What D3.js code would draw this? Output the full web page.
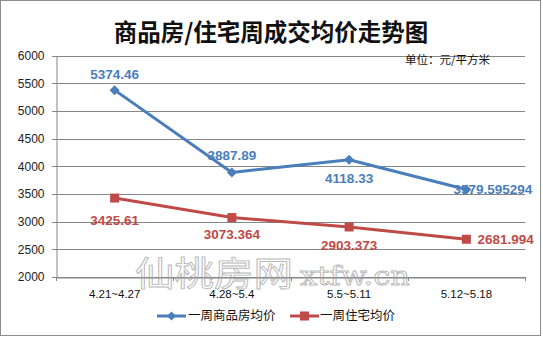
<!DOCTYPE html>
<html><head><meta charset="utf-8">
<script src="https://cdn.jsdelivr.net/npm/d3@7"></script>
<style>body{margin:0;background:#fff}svg{display:block}</style>
</head><body>
<script>
const categories = ["4.21~4.27", "4.28~5.4", "5.5~5.11", "5.12~5.18"];
const seriesNames = ["一周商品房均价", "一周住宅均价"];
const commercial = [5374.46, 3887.89, 4118.33, 3579.595294];
const residential = [3425.61, 3073.364, 2903.373, 2681.994];
const commercialLabels = ["5374.46", "3887.89", "4118.33", "3579.595294"];
const residentialLabels = ["3425.61", "3073.364", "2903.373", "2681.994"];
const yTicks = [2000, 2500, 3000, 3500, 4000, 4500, 5000, 5500, 6000];

const W = 543, H = 338;
const svg = d3.select("body").append("svg").attr("width", W).attr("height", H);
svg.append("rect").attr("x", 0.5).attr("y", 0.5).attr("width", W - 3).attr("height", H - 3)
  .attr("fill", "#fff").attr("stroke", "#8c8c8c").attr("stroke-width", 1);

const pLeft = 56, pRight = 525, pTop = 55.5, pBottom = 277;
const x = d3.scaleBand().domain(categories).range([pLeft, pRight]);
const y = d3.scaleLinear().domain([2000, 6000]).range([pBottom, pTop]);
const font = "'Liberation Sans', Arial, sans-serif";
const cjk = "'Noto Sans CJK SC', sans-serif";

// title
svg.append("text").attr("x", 271).attr("y", 41).attr("text-anchor", "middle")
  .attr("font-family", cjk).attr("font-weight", "bold").attr("font-size", 23.5)
  .attr("fill", "#111").text("商品房/住宅周成交均价走势图");

// gridlines
svg.append("g").selectAll("line").data(yTicks).join("line")
  .attr("x1", pLeft - 4).attr("x2", pRight)
  .attr("y1", d => Math.round(y(d)) + 0.5).attr("y2", d => Math.round(y(d)) + 0.5)
  .attr("stroke", "#868686").attr("stroke-width", 1);

// watermark (drawn under texts)
const wm = svg.append("g").attr("fill", "none").attr("stroke", "#b9b9b9").attr("stroke-width", 0.9);
wm.append("text").attr("x", 135).attr("y", 286).attr("font-family", cjk).attr("font-size", 34)
  .attr("textLength", 158).attr("lengthAdjust", "spacingAndGlyphs").text("仙桃房网");
wm.append("text").attr("x", 300).attr("y", 285).attr("font-family", "'DejaVu Serif', serif").attr("font-size", 26)
  .attr("textLength", 110).attr("lengthAdjust", "spacingAndGlyphs").text("xtfw.cn");

// y axis
const yAxis = d3.axisLeft(y).tickValues(yTicks).tickFormat(d3.format("d")).tickSize(0).tickPadding(12);
const gy = svg.append("g").attr("transform", `translate(${pLeft + 0.5},0)`).call(yAxis);
gy.select(".domain").attr("stroke", "#868686");
gy.selectAll("text").attr("font-family", font).attr("font-size", 12).attr("fill", "#222");

// x axis
const xAxis = d3.axisBottom(x).tickSize(0).tickPadding(12);
const gx = svg.append("g").attr("transform", `translate(0,${Math.round(pBottom) + 0.5})`).call(xAxis);
gx.select(".domain").attr("stroke", "#868686");
gx.selectAll("text").attr("font-family", font).attr("font-size", 11.5).attr("fill", "#111");
const bounds = categories.map(c => x(c)).concat([pRight]);
svg.append("g").selectAll("line").data(bounds).join("line")
  .attr("x1", d => Math.round(d) + 0.5).attr("x2", d => Math.round(d) + 0.5)
  .attr("y1", Math.round(pBottom)).attr("y2", Math.round(pBottom) + 4)
  .attr("stroke", "#868686");

const cx = d => x(d) + x.bandwidth() / 2;
const blue = "#4a7ebb", red = "#be4b48";
const line = d3.line().x((d, i) => cx(categories[i])).y(d => y(d));

svg.append("path").datum(commercial).attr("d", line).attr("fill", "none")
  .attr("stroke", blue).attr("stroke-width", 3).attr("stroke-linejoin", "round");
svg.append("path").datum(residential).attr("d", line).attr("fill", "none")
  .attr("stroke", red).attr("stroke-width", 3).attr("stroke-linejoin", "round");

const diamond = (px, py, r) => `M${px},${py - r}L${px + r},${py}L${px},${py + r}L${px - r},${py}Z`;
svg.append("g").selectAll("path").data(commercial).join("path")
  .attr("d", (d, i) => diamond(cx(categories[i]), y(d), 5)).attr("fill", blue);
svg.append("g").selectAll("rect").data(residential).join("rect")
  .attr("x", (d, i) => cx(categories[i]) - 4.5).attr("y", d => y(d) - 4.5)
  .attr("width", 9).attr("height", 9).attr("fill", red);

// data labels
const blueOff = [[0, -16], [0, -17], [0, 19], [-13, 0]];
const redOff = [[0, 22], [0, 17], [0, 18], [11, 0]];
svg.append("g").selectAll("text").data(commercial).join("text")
  .attr("x", (d, i) => cx(categories[i]) + blueOff[i][0])
  .attr("y", (d, i) => y(d) + blueOff[i][1])
  .attr("dy", "0.35em")
  .attr("text-anchor", (d, i) => i === 3 ? "start" : "middle")
  .attr("font-family", font).attr("font-weight", "bold").attr("font-size", 13.5)
  .attr("fill", blue).text((d, i) => commercialLabels[i]);
svg.append("g").selectAll("text").data(residential).join("text")
  .attr("x", (d, i) => cx(categories[i]) + redOff[i][0])
  .attr("y", (d, i) => y(d) + redOff[i][1])
  .attr("dy", "0.35em")
  .attr("text-anchor", (d, i) => i === 3 ? "start" : "middle")
  .attr("font-family", font).attr("font-weight", "bold").attr("font-size", 13.5)
  .attr("fill", red).text((d, i) => residentialLabels[i]);

// unit text
svg.append("text").attr("x", 405).attr("y", 64).attr("font-family", cjk).attr("font-size", 11.5)
  .attr("fill", "#111").text("单位：元/平方米");

// legend
const lg = svg.append("g");
lg.append("line").attr("x1", 157).attr("x2", 186).attr("y1", 316).attr("y2", 316).attr("stroke", blue).attr("stroke-width", 3);
lg.append("path").attr("d", diamond(171.5, 316, 4.5)).attr("fill", blue);
lg.append("text").attr("x", 188).attr("y", 316).attr("dy", "0.35em").attr("font-family", cjk).attr("font-size", 12.5)
  .attr("fill", "#111").text(seriesNames[0]);
lg.append("line").attr("x1", 290).attr("x2", 319).attr("y1", 316).attr("y2", 316).attr("stroke", red).attr("stroke-width", 3);
lg.append("rect").attr("x", 300).attr("y", 311.5).attr("width", 9).attr("height", 9).attr("fill", red);
lg.append("text").attr("x", 320).attr("y", 316).attr("dy", "0.35em").attr("font-family", cjk).attr("font-size", 12.5)
  .attr("fill", "#111").text(seriesNames[1]);
</script>
</body></html>
